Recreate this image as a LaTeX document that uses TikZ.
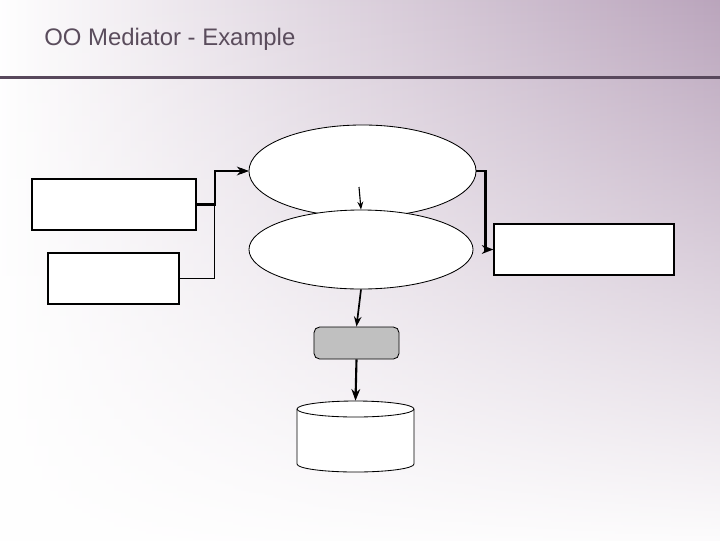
\documentclass[tikz,border=0pt]{standalone}
\usepackage{fontspec}
\setsansfont{Liberation Sans}
\usepackage{xcolor}
\usetikzlibrary{shapes.geometric, arrows.meta, positioning, fadings}

\definecolor{bgpurple}{RGB}{184,162,186}
\definecolor{rulepurple}{RGB}{88,72,92}
\definecolor{titlegray}{RGB}{90,76,92}
\definecolor{procgray}{RGB}{192,192,192}

\begin{document}
\begin{tikzpicture}[
    x=0.025cm, y=-0.025cm,
    boxnode/.style={rectangle, draw=black, fill=white, line width=0.8pt, inner sep=0pt},
    ovalnode/.style={ellipse, draw=black, fill=white, line width=0.6pt, inner sep=0pt},
    procnode/.style={rectangle, draw=black, fill=procgray, rounded corners=4pt, line width=0.6pt, inner sep=0pt, minimum width=2.125cm, minimum height=0.8cm},
    dbnode/.style={rectangle, draw=none, inner sep=0pt, minimum width=2.925cm, minimum height=1.775cm},
    arr/.style={-{Stealth[scale=0.85]}, line width=0.8pt, color=black},
    tarr/.style={arr, line width=1.5pt}
]

% background
\useasboundingbox (0,0) rectangle (720,540);
\shade[left color=white, right color=bgpurple] (-10,-10) rectangle (730,560);
\fill[white, path fading=north] (-10,-10) rectangle (730,560);
\fill[rulepurple] (0,75.5) rectangle (720,78.5);
\node[anchor=base west, inner sep=0pt, text=titlegray, font=\sffamily\fontsize{17}{20}\selectfont] (title) at (44,45) {OO Mediator - Example};

% left boxes
\node[boxnode, minimum width=4.1cm, minimum height=1.275cm] (clientA) at (114,204.5) {};
\node[boxnode, minimum width=3.275cm, minimum height=1.275cm] (clientB) at (113.5,278.5) {};

% mediator
\node[ovalnode, minimum width=5.675cm, minimum height=2.3cm] (mediator) at (362.5,171) {};
\node[ovalnode, minimum width=5.6cm, minimum height=1.975cm] (wrapper) at (361,249.5) {};
\coordinate (medin) at (359,187);

% right box
\node[boxnode, minimum width=4.5cm, minimum height=1.275cm] (clientC) at (584,249.5) {};

% source and store
\node[procnode] (source) at (356.5,343) {};
\node[dbnode] (store) at (355.5,436.5) {};
\filldraw[fill=white, line width=0.6pt]
  (297,409) -- (297,464) arc[start angle=180, end angle=0, x radius=58.5, y radius=8]
  -- (414,409) arc[start angle=0, end angle=-180, x radius=58.5, y radius=8] -- cycle;
\draw[line width=0.6pt] (297,409) arc[start angle=180, end angle=0, x radius=58.5, y radius=8];

\draw[tarr] (clientA.east) -- ++(18,0) |- (mediator.west);
\draw[arr] (clientB.east) -- ++(35,0) |- (mediator.west);
\draw[tarr] (mediator.east) -- ++(9,0) |- (clientC.west);
\draw[arr] (medin) -- (wrapper.north);
\draw[arr, line width=1.2pt] (wrapper.south) -- (source.north);
\draw[tarr] (source.south) -- (store.north);

\end{tikzpicture}
\end{document}
